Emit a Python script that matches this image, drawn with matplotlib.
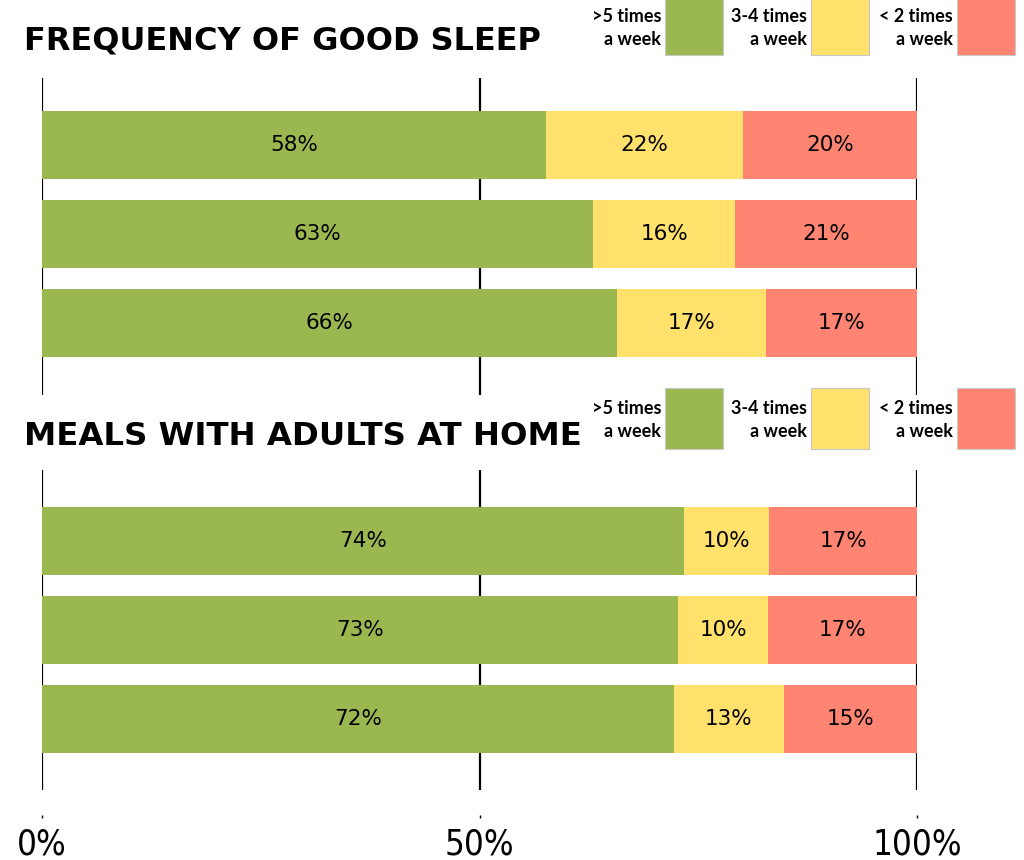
import matplotlib.pyplot as plt
from matplotlib.patches import Rectangle

W, H = 1024, 860

categories = ['>5 times\na week', '3-4 times\na week', '< 2 times\na week']
colors = ['#9BB850', '#FFE16C', '#FF8472']

# bar widths and the labels printed on them
sleep_widths = [[57.6, 22.5, 19.9], [63.0, 16.2, 20.8], [65.7, 17.0, 17.3]]
sleep_labels = [['58%', '22%', '20%'], ['63%', '16%', '21%'], ['66%', '17%', '17%']]
meals_widths = [[73.4, 9.7, 16.9], [72.7, 10.3, 17.0], [72.2, 12.6, 15.2]]
meals_labels = [['74%', '10%', '17%'], ['73%', '10%', '17%'], ['72%', '13%', '15%']]

tick_vals = [0, 50, 100]
tick_labels = ['0%', '50%', '100%']

fig = plt.figure(figsize=(W / 100, H / 100), dpi=100)


def fx(px):
    return px / W


def fy(py):
    return 1 - py / H


def panel(top, bottom, first, widths, labels):
    # first = pixel row of the first bar centre, rows are 89 px apart
    ax = fig.add_axes([fx(42), fy(bottom), fx(875), (bottom - top) / H])
    for x in tick_vals:
        ax.axvline(x, color='black', lw=1.6, zorder=0)
    for i, (row, labs) in enumerate(zip(widths, labels)):
        left = 0
        for w, lab, c in zip(row, labs, colors):
            ax.barh(i, w, left=left, height=68 / 89, color=c, zorder=2)
            ax.text(left + w / 2, i, lab, ha='center', va='center',
                    fontsize=15.5, color='black', zorder=3)
            left += w
    ax.set_xlim(0, 100)
    ax.set_ylim((bottom - first) / 89, -(first - top) / 89)
    ax.axis('off')
    return ax


def legend(y0, y1, ytext):
    box_x = [665, 811, 957]
    for bx, cat, c in zip(box_x, categories, colors):
        fig.patches.append(Rectangle((fx(bx), fy(y1)), fx(58), (y1 - y0) / H,
                                     transform=fig.transFigure, facecolor=c,
                                     edgecolor='#c8c8c8', lw=0.8))
        fig.text(fx(bx - 4), fy(ytext), cat, ha='right', va='center',
                 fontsize=13, fontweight='bold', family='Lato', linespacing=1.42)


panel(78, 395, 145, sleep_widths, sleep_labels)
panel(470, 790, 541, meals_widths, meals_labels)

fig.text(fx(24), fy(41), 'FREQUENCY OF GOOD SLEEP', ha='left', va='center',
         fontsize=23, fontweight='bold')
fig.text(fx(24), fy(436), 'MEALS WITH ADULTS AT HOME', ha='left', va='center',
         fontsize=23.3, fontweight='bold')

legend(-6, 55, 28)
legend(388, 449, 420)

# bottom tick axis
tax = fig.add_axes([fx(42), fy(815), fx(875), 0.0001])
tax.set_xlim(0, 100)
tax.set_xticks(tick_vals)
tax.set_xticklabels(tick_labels, fontsize=25, fontstretch='condensed')
tax.tick_params(axis='x', length=2, width=1, pad=7)
tax.set_yticks([])
for s in tax.spines.values():
    s.set_visible(False)

fig.savefig('out.png', dpi=100)
